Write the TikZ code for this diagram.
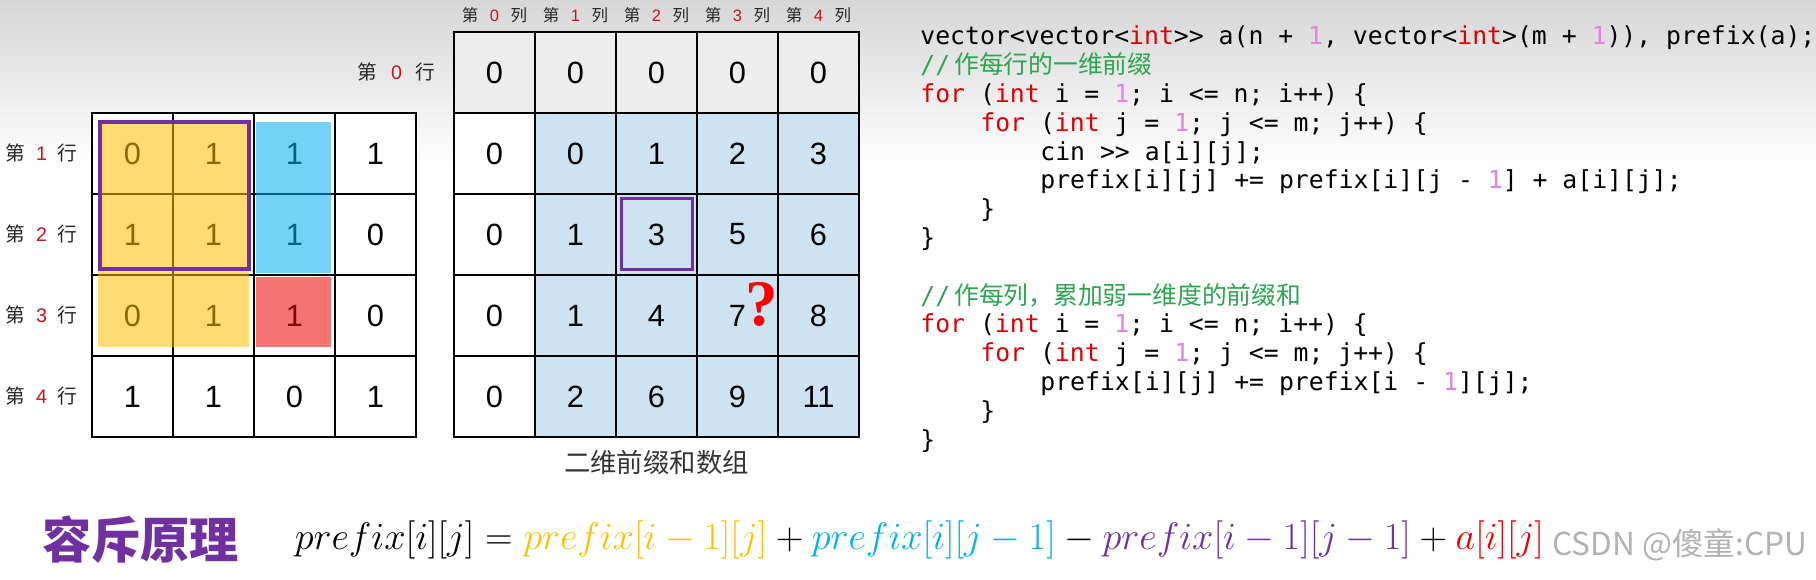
\RequirePackage{fix-cm}
\documentclass[tikz,border=0pt]{standalone}
\usepackage[no-math]{fontspec}
\setmainfont{Liberation Sans}
\setmonofont{DejaVu Sans Mono}
\newfontfamily\cjk{Noto Sans CJK SC}
\newfontfamily\qfont{Liberation Serif}
\usetikzlibrary{positioning}

\definecolor{ppurple}{RGB}{112,48,160}
\definecolor{pyellow}{RGB}{255,192,0}
\definecolor{pcyan}{RGB}{0,176,240}
\definecolor{pred}{RGB}{235,0,0}
\definecolor{cellblue}{RGB}{205,227,241}
\definecolor{kwred}{RGB}{220,0,0}
\definecolor{numpink}{RGB}{228,130,228}
\definecolor{cmtgreen}{RGB}{45,165,80}
\definecolor{lblred}{RGB}{200,20,20}

\newcommand{\kwd}[1]{\textcolor{kwred}{#1}}
\newcommand{\numc}[1]{\textcolor{numpink}{#1}}
\newcommand{\idx}[3][0.7em]{第\hspace{#1}{\color{lblred}\rmfamily #2}\hspace{#1}#3}

\tikzset{
  cell/.style={draw=black,line width=0.4mm,minimum size=16.2mm,inner sep=0pt,
    font=\fontsize{17.5}{18}\selectfont},
  rowlbl/.style={font=\cjk\fontsize{11.2}{12}\selectfont,text=black!85,inner sep=0pt},
  collbl/.style={font=\cjk\fontsize{9.4}{10}\selectfont,text=black!85,inner sep=0pt},
  code/.style={anchor=base west,inner sep=0pt,font=\ttfamily\fontsize{14.1}{16}\selectfont},
  cmt/.style={code,text=cmtgreen}
}

\begin{document}
\begin{tikzpicture}[x=0.2mm,y=-0.2mm]
\useasboundingbox (0,0) rectangle (1816,580);
\shade[top color=black!16,bottom color=white] (0,0) rectangle (1816,170);
\fill[white] (0,170) rectangle (1816,580);

% original array
\foreach \row [count=\r] in {{0,1,1,1},{1,1,1,0},{0,1,1,0},{1,1,0,1}}
  \foreach \v [count=\c] in \row
    \node[cell,fill=white] (a\r\c) at ({92+81*(\c-0.5)},{113+81*(\r-0.5)}) {\v};

% prefix array
\foreach \row [count=\r from 0] in {{0,0,0,0,0},{0,0,1,2,3},{0,1,3,5,6},{0,1,4,7,8},{0,2,6,9,11}}
  \foreach \v [count=\c from 0] in \row {
    \ifnum\r=0 \def\cf{black!7}\else\ifnum\c=0 \def\cf{white}\else\def\cf{cellblue}\fi\fi
    \node[cell,fill=\cf] (b\r\c) at ({454+81*(\c+0.5)},{32+81*(\r+0.5)}) {\v};
  }

% labels
\node[rowlbl,left=3.4mm of b00] (rl0) {\idx{0}{行}};
\foreach \r in {1,...,4}
  \node[rowlbl,left=2.6mm of a\r1] (rl\r) {\idx[0.55em]{\r}{行}};
\foreach \c in {0,...,4}
  \node[collbl,above=1.6mm of b0\c] (cl\c) {\idx{\c}{列}};
\node[font=\cjk\fontsize{15}{16}\selectfont,text=black!80,inner sep=0pt,below=2.4mm of b42] (cap) {二维前缀和数组};

% highlights
\fill[pyellow,fill opacity=0.55] ([shift={(7,9)}]a11.north west) rectangle ([shift={(-6,-10)}]a32.south east);
\fill[pcyan,fill opacity=0.55] ([shift={(3,10)}]a13.north west) rectangle ([shift={(-5,-3)}]a23.south east);
\fill[pred,fill opacity=0.55] ([shift={(3,3)}]a33.north west) rectangle ([shift={(-5,-10)}]a33.south east);
\draw[ppurple,line width=0.8mm] ([shift={(9,10)}]a11.north west) rectangle ([shift={(-6,-7)}]a22.south east);
\draw[ppurple,line width=0.6mm] ([shift={(6,6)}]b22.north west) rectangle ([shift={(-6,-6)}]b22.south east);
\node[font=\qfont\bfseries\fontsize{37}{37}\selectfont,text=red,inner sep=0pt] (qm) at ([shift={(24,-11)}]b33.center) {?};

% code
\node[code] (c1) at (920,45) {vector<vector<\kwd{int}>> a(n + \numc{1}, vector<\kwd{int}>(m + \numc{1})), prefix(a);};
\node[cmt] (c2) at (920,73.8) {//\,{\cjk 作每行的一维前缀}};
\node[code] (c3) at (920,102.6) {\kwd{for} (\kwd{int} i = \numc{1}; i <= n; i++) \{};
\node[code] (c4) at (980,131.4) {\kwd{for} (\kwd{int} j = \numc{1}; j <= m; j++) \{};
\node[code] (c5) at (1040,160.2) {cin >> a[i][j];};
\node[code] (c6) at (1040,189) {prefix[i][j] += prefix[i][j - \numc{1}] + a[i][j];};
\node[code] (c7) at (980,217.8) {\}};
\node[code] (c8) at (920,246.6) {\}};
\node[cmt] (c9) at (920,304.2) {//\,{\cjk 作每列，累加弱一维度的前缀和}};
\node[code] (c10) at (920,333) {\kwd{for} (\kwd{int} i = \numc{1}; i <= n; i++) \{};
\node[code] (c11) at (980,361.8) {\kwd{for} (\kwd{int} j = \numc{1}; j <= m; j++) \{};
\node[code] (c12) at (1040,390.6) {prefix[i][j] += prefix[i - \numc{1}][j];};
\node[code] (c13) at (980,419.4) {\}};
\node[code] (c14) at (920,448.2) {\}};

% formula
\node[anchor=west,inner sep=0pt,font=\cjk\bfseries\fontsize{28}{30}\selectfont,text=ppurple] (ttl) at (42,540) {容斥原理};
\node[inner sep=0pt,font=\fontsize{21.8}{24}\selectfont,right=11mm of ttl] (frm)
  {$prefix[i][j] = {\color{pyellow}prefix[i-1][j]} + {\color{pcyan}prefix[i][j-1]}
   - {\color{ppurple}prefix[i-1][j-1]} + {\color{pred}a[i][j]}$};
\node[anchor=west,inner sep=0pt,font=\cjk\fontsize{18}{20}\selectfont,text=black!30] (wm) at (1552,545) {CSDN @傻童:CPU};
\end{tikzpicture}
\end{document}
